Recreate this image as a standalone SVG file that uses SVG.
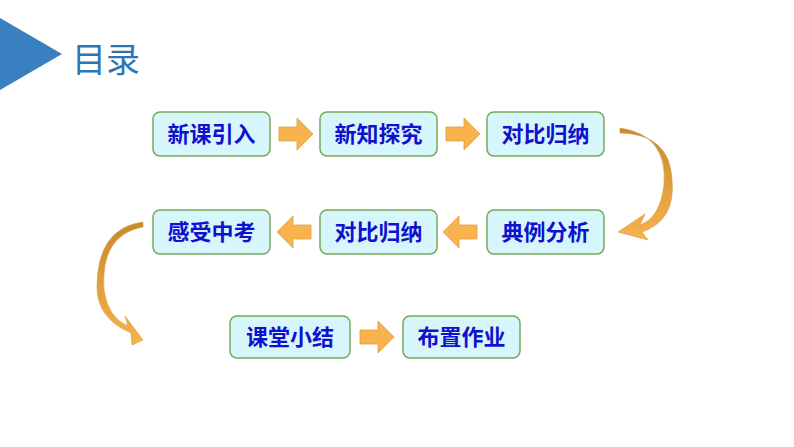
<svg xmlns="http://www.w3.org/2000/svg" width="794" height="447" viewBox="0 0 794 447">
<style>
.b{fill:#d7f6fb;stroke:#77a85a;stroke-width:1.5}
.t{font-family:"Noto Sans CJK SC",sans-serif;font-weight:bold;font-size:22px;fill:#1010d0;text-anchor:middle}
.a{fill:#f8b24e;stroke:#e0a040;stroke-width:0.8}
.c{fill:url(#g);stroke:#d09a3e;stroke-width:0.6}
</style>
<defs>
<linearGradient id="g" x1="0" y1="0" x2="0" y2="1"><stop offset="0" stop-color="#c98a2c"/><stop offset="1" stop-color="#f8b24e"/></linearGradient>
<path id="ar" d="M0,-7 H18 V-16 L34,0 L18,16 V7 H0 Z"/>
</defs>
<rect width="794" height="447" fill="#fff"/>
<polygon points="0,18 62,54 0,90" fill="#3a7fc0"/>
<text x="72" y="72" font-family="Noto Sans CJK SC,sans-serif" font-size="34" fill="#2e75b6">目录</text>
<g id="n1"><rect class="b" x="153" y="112" width="117" height="44" rx="7"/><text class="t" x="211.5" y="142">新课引入</text></g>
<g id="n2"><rect class="b" x="320" y="112" width="117" height="44" rx="7"/><text class="t" x="378.5" y="142">新知探究</text></g>
<g id="n3"><rect class="b" x="487" y="112" width="117" height="44" rx="7"/><text class="t" x="545.5" y="142">对比归纳</text></g>
<g id="n4"><rect class="b" x="487" y="210" width="117" height="44" rx="7"/><text class="t" x="545.5" y="240">典例分析</text></g>
<g id="n5"><rect class="b" x="320" y="210" width="117" height="44" rx="7"/><text class="t" x="378.5" y="240">对比归纳</text></g>
<g id="n6"><rect class="b" x="153" y="210" width="117" height="44" rx="7"/><text class="t" x="211.5" y="240">感受中考</text></g>
<g id="n7"><rect class="b" x="230" y="316" width="120" height="42" rx="7"/><text class="t" x="290" y="345">课堂小结</text></g>
<g id="n8"><rect class="b" x="403" y="316" width="117" height="42" rx="7"/><text class="t" x="461.5" y="345">布置作业</text></g>
<g id="connectors">
<use href="#ar" class="a" transform="translate(279,134)"/>
<use href="#ar" class="a" transform="translate(446,134)"/>
<use href="#ar" class="a" transform="translate(477,232) scale(-1,1)"/>
<use href="#ar" class="a" transform="translate(311,232) scale(-1,1)"/>
<use href="#ar" class="a" transform="translate(360,337)"/>
<path class="c" d="M620,128 Q668,135 664,185 Q660,218 640,225 L645,214 L618,232 L648,240 L642,232 Q676,220 672,180 Q670,134 620,133 Z"/>
<path class="c" d="M143,227 Q100,235 104,290 Q108,318 128,326 L125,316 L143,340 L132,345 L131,333 Q96,318 97,285 Q98,228 143,222 Z"/>
</g>
</svg>
